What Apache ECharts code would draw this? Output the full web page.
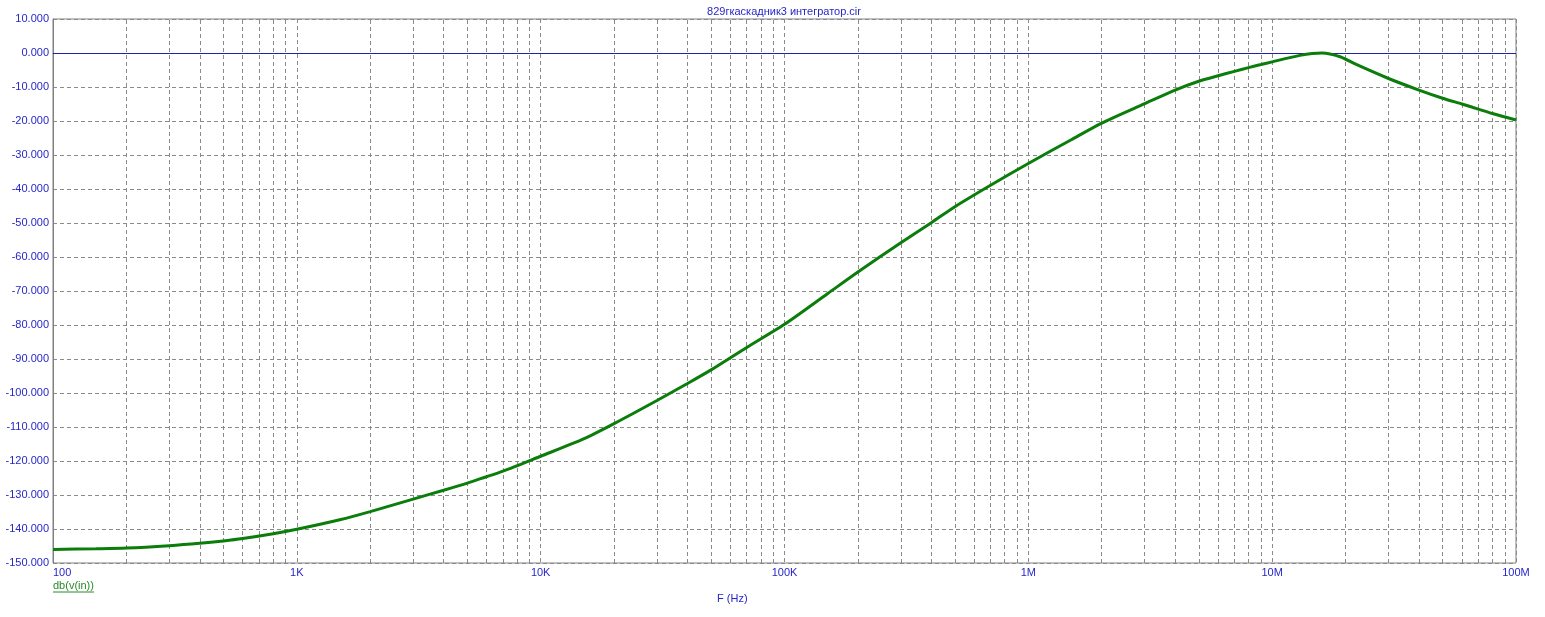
<!DOCTYPE html>
<html>
<head>
<meta charset="utf-8">
<script src="https://cdn.jsdelivr.net/npm/echarts@6/dist/echarts.min.js"></script>
<style>
html,body{margin:0;padding:0;background:#fff;}
#chart{width:1545px;height:617px;}
</style>
</head>
<body>
<div id="chart"></div>
<script>
const freqs = [100,150,200,300,400,500,600,800,1e3,1.5e3,2e3,3e3,4e3,5e3,7e3,1e4,1.5e4,2e4,3e4,4e4,5e4,7e4,1e5,1.5e5,2e5,3e5,4e5,5e5,7e5,1e6,1.5e6,2e6,3e6,4e6,5e6,6e6,7e6,8e6,9e6,1e7,1.3e7,1.6e7,1.9e7,2.2e7,3e7,4e7,5e7,6e7,7e7,8e7,1e8];
const dbValues = [-146,-145.8,-145.6,-144.9,-144.2,-143.5,-142.8,-141.4,-140.1,-137.3,-134.9,-131.2,-128.6,-126.5,-123.0,-118.6,-113.5,-109.0,-102.2,-97.2,-93.2,-86.6,-79.8,-70.8,-64.4,-55.8,-49.9,-45.2,-38.9,-32.5,-25.5,-20.6,-14.9,-10.9,-8.3,-6.7,-5.4,-4.3,-3.4,-2.6,-0.7,0,-1.1,-3.3,-7.5,-10.9,-13.3,-15,-16.5,-17.8,-19.7];
const xTickLabels = {100:'100',1000:'1K',10000:'10K',100000:'100K',1000000:'1M',10000000:'10M',100000000:'100M'};
const minorGridFreqs = [];
[100,1000,10000,100000,1000000,10000000].forEach(d => { for (let k = 2; k <= 9; k++) minorGridFreqs.push(d * k); });
const titleText = '829гкаскадник3 интегратор.cir';
const xAxisTitle = 'F (Hz)';
const seriesName = 'db(v(in))';

const blue = '#2626c8';
const gridGray = '#8a8a8a';
const chart = echarts.init(document.getElementById('chart'));
const data = freqs.map((f, i) => [f, dbValues[i]]);
const dashed = { color: gridGray, width: 1, type: [4, 3] };

chart.setOption({
  animation: false,
  backgroundColor: '#fff',
  grid: { left: 53, right: 29, top: 19, bottom: 54, show: true, borderColor: '#808080', borderWidth: 1, backgroundColor: '#fff' },
  title: {
    text: titleText, left: 784, top: 6, padding: 0, textAlign: 'center',
    textStyle: { color: blue, fontSize: 11, fontWeight: 'normal', fontFamily: 'Liberation Sans, Arial' }
  },
  xAxis: {
    type: 'log', logBase: 10, min: 100, max: 1e8, splitNumber: 6,
    axisLine: { show: true, lineStyle: { color: '#808080' } },
    axisTick: { show: false },
    axisLabel: {
      color: blue, fontSize: 11, margin: 4, fontFamily: 'Liberation Sans, Arial',
      alignMinLabel: 'left', alignMaxLabel: 'center', showMinLabel: true, showMaxLabel: true,
      formatter: v => xTickLabels[Math.round(v)] || ''
    },
    splitLine: { show: true, lineStyle: dashed }
  },
  yAxis: {
    type: 'value', min: -150, max: 10, interval: 10,
    axisLine: { show: true, lineStyle: { color: '#808080' } },
    axisTick: { show: false },
    axisLabel: { color: blue, fontSize: 11, margin: 4, fontFamily: 'Liberation Sans, Arial', formatter: v => v.toFixed(3) },
    splitLine: { show: true, lineStyle: dashed }
  },
  graphic: [
    { type: 'text', left: 53, top: 580, style: { text: seriesName, fill: '#2a8a2a', font: '11px Liberation Sans, Arial' } },
    { type: 'line', shape: { x1: 53, y1: 592, x2: 94, y2: 592 }, style: { stroke: '#2a8a2a', lineWidth: 1 } },
    { type: 'text', left: 717, top: 593, style: { text: xAxisTitle, fill: blue, font: '11px Liberation Sans, Arial' } }
  ],
  series: [
    {
      type: 'line', name: 'minorGrid', data: [], silent: true,
      markLine: {
        silent: true, symbol: 'none', label: { show: false },
        lineStyle: dashed,
        data: minorGridFreqs.map(f => ({ xAxis: f }))
      }
    },
    {
      type: 'line', name: 'zeroLine', data: [], silent: true,
      markLine: {
        silent: true, symbol: 'none', label: { show: false },
        lineStyle: { color: '#2020b0', width: 1, type: 'solid' },
        data: [{ yAxis: 0 }]
      }
    },
    {
      type: 'line', name: seriesName, data: data, smooth: 0.25, showSymbol: false,
      lineStyle: { color: '#0a7d0a', width: 3 }, z: 5
    }
  ]
});
</script>
</body>
</html>
